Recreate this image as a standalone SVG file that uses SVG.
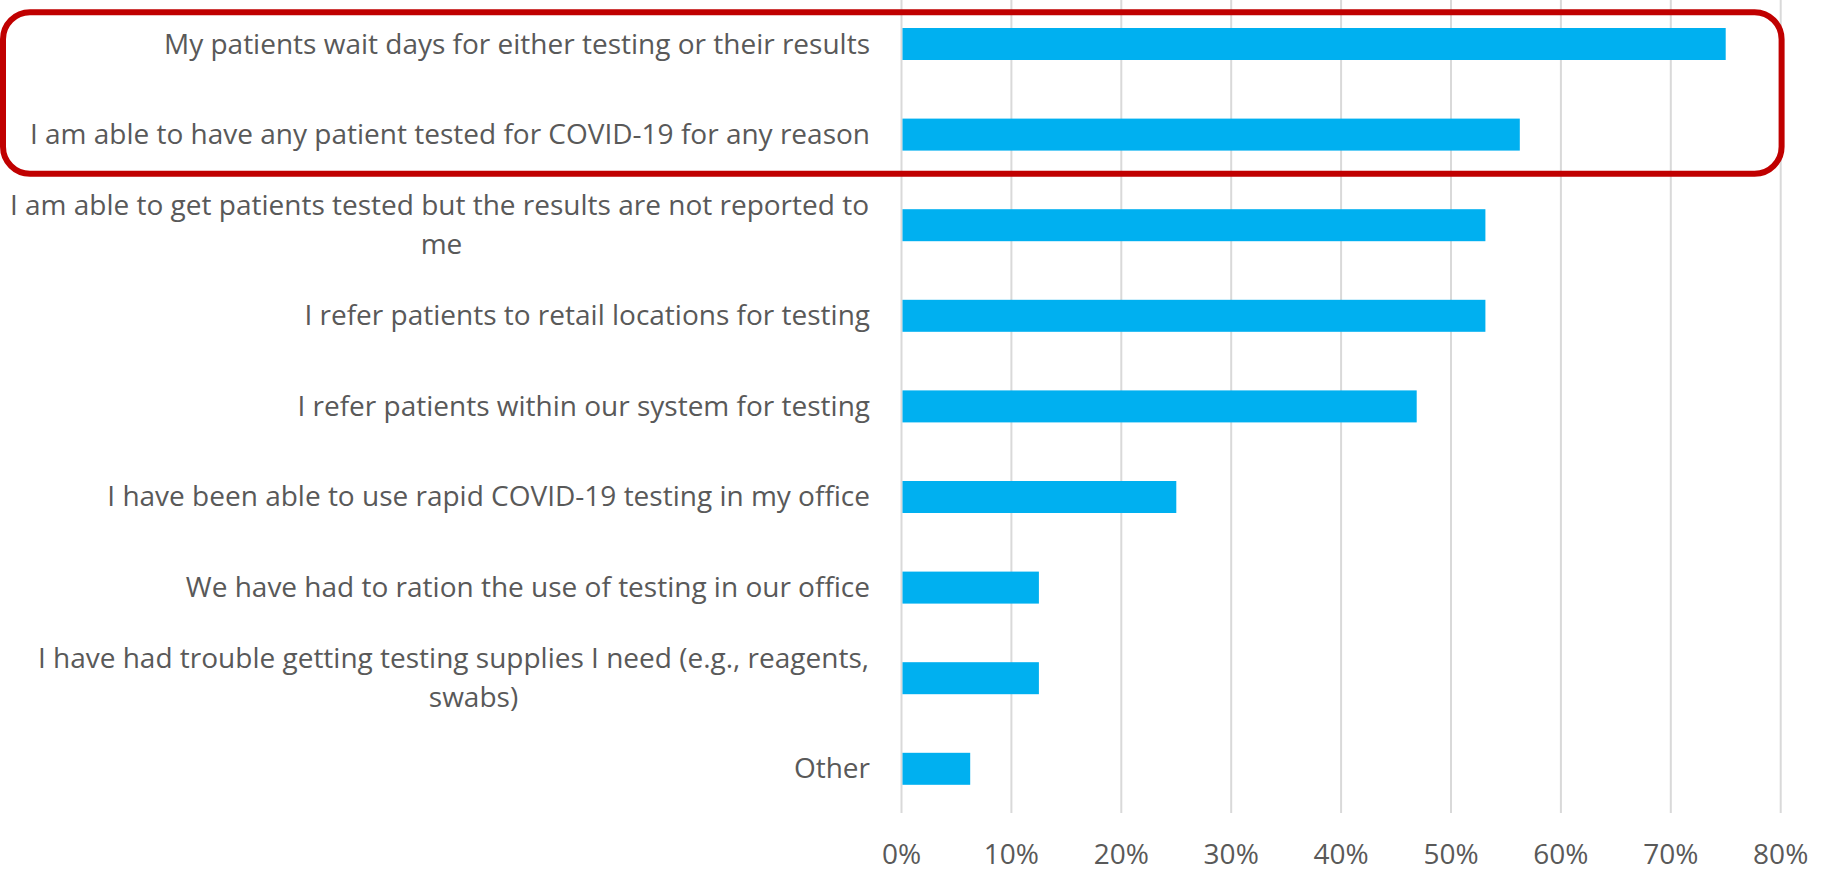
<svg xmlns="http://www.w3.org/2000/svg" width="1827" height="869" viewBox="0 0 1827 869">
<style>
.lbl{font-family:"Open Sans","Liberation Sans",sans-serif;font-size:28px;fill:#595959}
.end{text-anchor:end}
.mid{text-anchor:middle}
.bar{fill:#00B0F0}
.grid{stroke:#D9D9D9;stroke-width:2}
</style>
<rect width="1827" height="869" fill="#FFFFFF"/>
<g id="gridlines">
<line class="grid" x1="901.5" y1="0" x2="901.5" y2="813"/>
<line class="grid" x1="1011.4" y1="0" x2="1011.4" y2="813"/>
<line class="grid" x1="1121.3" y1="0" x2="1121.3" y2="813"/>
<line class="grid" x1="1231.2" y1="0" x2="1231.2" y2="813"/>
<line class="grid" x1="1341.1" y1="0" x2="1341.1" y2="813"/>
<line class="grid" x1="1451" y1="0" x2="1451" y2="813"/>
<line class="grid" x1="1560.9" y1="0" x2="1560.9" y2="813"/>
<line class="grid" x1="1670.8" y1="0" x2="1670.8" y2="813"/>
<line class="grid" x1="1780.7" y1="0" x2="1780.7" y2="813"/>
</g>
<g id="axis-labels">
<text class="lbl mid" x="901.5" y="864">0%</text>
<text class="lbl mid" x="1011.4" y="864">10%</text>
<text class="lbl mid" x="1121.3" y="864">20%</text>
<text class="lbl mid" x="1231.2" y="864">30%</text>
<text class="lbl mid" x="1341.1" y="864">40%</text>
<text class="lbl mid" x="1451" y="864">50%</text>
<text class="lbl mid" x="1560.9" y="864">60%</text>
<text class="lbl mid" x="1670.8" y="864">70%</text>
<text class="lbl mid" x="1780.7" y="864">80%</text>
</g>
<g id="row1">
<rect class="bar" x="902.5" y="28" width="823.2" height="32"/>
<text class="lbl end" x="870" y="53.5">My patients wait days for either testing or their results</text>
</g>
<g id="row2">
<rect class="bar" x="902.5" y="118.6" width="617.3" height="32"/>
<text class="lbl end" x="870" y="144">I am able to have any patient tested for COVID-19 for any reason</text>
</g>
<g id="row3">
<rect class="bar" x="902.5" y="209.2" width="582.9" height="32"/>
<text class="lbl end" x="869" y="215">I am able to get patients tested but the results are not reported to</text>
<text class="lbl mid" x="441.5" y="254">me</text>
</g>
<g id="row4">
<rect class="bar" x="902.5" y="299.8" width="582.9" height="32"/>
<text class="lbl end" x="870" y="325">I refer patients to retail locations for testing</text>
</g>
<g id="row5">
<rect class="bar" x="902.5" y="390.4" width="514.2" height="32"/>
<text class="lbl end" x="870" y="415.6">I refer patients within our system for testing</text>
</g>
<g id="row6">
<rect class="bar" x="902.5" y="481" width="273.8" height="32"/>
<text class="lbl end" x="870" y="506.2">I have been able to use rapid COVID-19 testing in my office</text>
</g>
<g id="row7">
<rect class="bar" x="902.5" y="571.6" width="136.4" height="32"/>
<text class="lbl end" x="870" y="596.8">We have had to ration the use of testing in our office</text>
</g>
<g id="row8">
<rect class="bar" x="902.5" y="662.2" width="136.4" height="32"/>
<text class="lbl end" x="869" y="668">I have had trouble getting testing supplies I need (e.g., reagents,</text>
<text class="lbl mid" x="473.5" y="707">swabs)</text>
</g>
<g id="row9">
<rect class="bar" x="902.5" y="752.8" width="67.7" height="32"/>
<text class="lbl end" x="870" y="778">Other</text>
</g>
<g id="highlight">
<rect x="3" y="12.3" width="1778.6" height="161.4" rx="27" ry="27" fill="none" stroke="#C00000" stroke-width="6"/>
</g>
</svg>
